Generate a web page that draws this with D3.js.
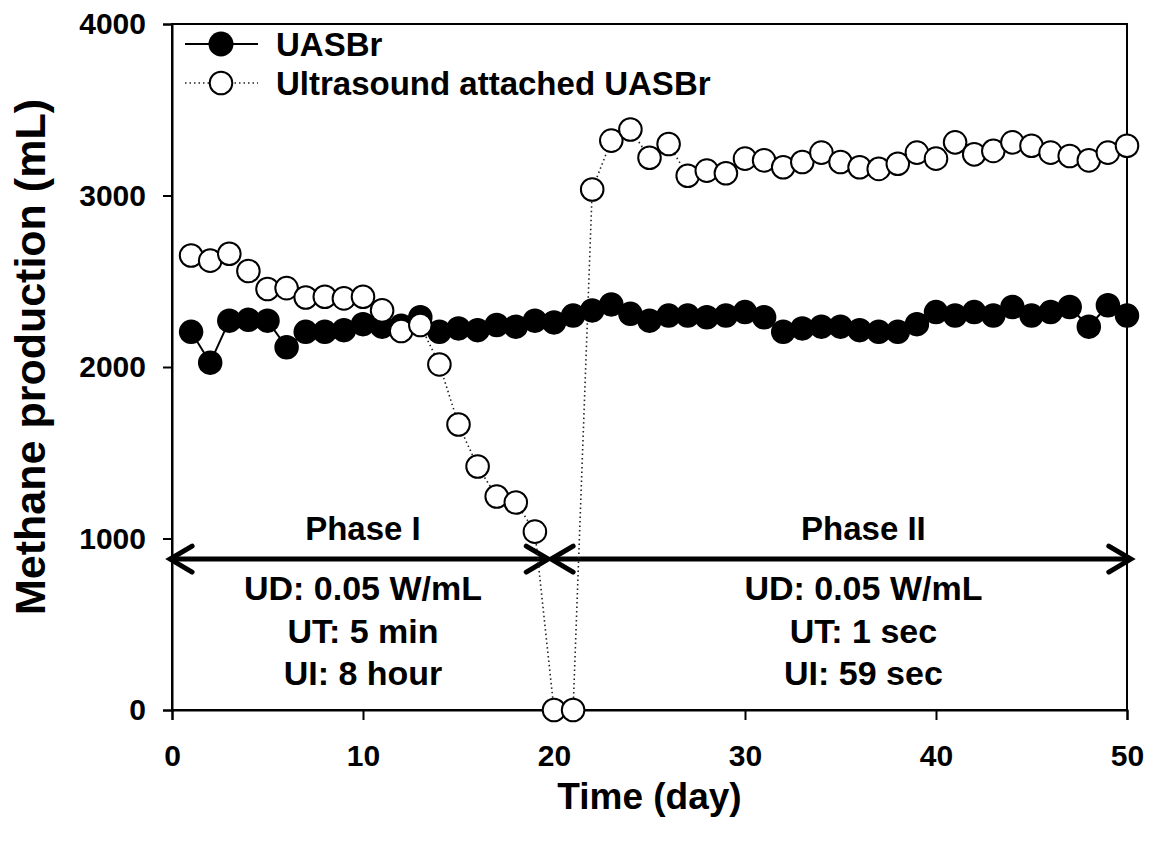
<!DOCTYPE html>
<html>
<head>
<meta charset="utf-8">
<script src="https://cdn.jsdelivr.net/npm/d3@7"></script>
<style>
  body { margin: 0; background: #fff; }
  svg text { font-family: "Liberation Sans", Arial, sans-serif; font-weight: bold; fill: #000; }
</style>
</head>
<body>
<svg width="1150" height="842"></svg>
<script>
// data (mL of methane per day)
var days = d3.range(1, 51);
var uasbr = [2205, 2025, 2270, 2275, 2270, 2115, 2205, 2205, 2215, 2250,
             2235, 2240, 2290, 2205, 2225, 2215, 2245, 2235, 2270, 2260,
             2300, 2330, 2365, 2310, 2270, 2300, 2300, 2290, 2300, 2320,
             2290, 2205, 2225, 2235, 2235, 2215, 2205, 2205, 2250, 2320,
             2300, 2320, 2300, 2350, 2300, 2320, 2350, 2235, 2360, 2300];
var ultrasound = [2650, 2620, 2660, 2560, 2455, 2460, 2405, 2410, 2400, 2410,
                  2330, 2210, 2245, 2015, 1665, 1420, 1245, 1210, 1040, 0,
                  0, 3035, 3320, 3385, 3220, 3300, 3115, 3145, 3130, 3215,
                  3205, 3165, 3195, 3250, 3195, 3165, 3155, 3185, 3250, 3215,
                  3310, 3240, 3260, 3310, 3290, 3250, 3230, 3205, 3250, 3290];
var xTicks = [0, 10, 20, 30, 40, 50];
var yTicks = [0, 1000, 2000, 3000, 4000];
var seriesNames = ["UASBr", "Ultrasound attached UASBr"];
var phases = [
  {name: "Phase I", from: -0.1, to: 19.7, mid: 10, lines: ["UD: 0.05 W/mL", "UT: 5 min", "UI: 8 hour"]},
  {name: "Phase II", from: 19.85, to: 50.2, mid: 36.2, lines: ["UD: 0.05 W/mL", "UT: 1 sec", "UI: 59 sec"]}
];
var phaseLevel = 880;

var svg = d3.select("svg");
var plotL = 172, plotR = 1127, plotT = 24, plotB = 710;

var x = d3.scaleLinear().domain([0, 50]).range([plotL, plotR]);
var y = d3.scaleLinear().domain([0, 4000]).range([plotB, plotT]);

// frame
svg.append("rect")
    .attr("x", plotL).attr("y", plotT)
    .attr("width", plotR - plotL).attr("height", plotB - plotT)
    .attr("fill", "none").attr("stroke", "#000").attr("stroke-width", 2);

var xAxis = svg.append("g")
    .attr("transform", "translate(0," + plotB + ")")
    .call(d3.axisBottom(x).tickValues(xTicks).tickSize(10).tickPadding(25).tickFormat(d3.format("d")));
var yAxis = svg.append("g")
    .attr("transform", "translate(" + plotL + ",0)")
    .call(d3.axisLeft(y).tickValues(yTicks).tickSize(9).tickPadding(17).tickFormat(d3.format("d")));

[xAxis, yAxis].forEach(function (a) {
    a.select(".domain").attr("stroke-width", 2);
    a.selectAll(".tick line").attr("stroke-width", 2);
    a.selectAll("text").attr("font-size", 30)
        .style("font-family", "'Liberation Sans', Arial, sans-serif").style("font-weight", "bold");
});

// axis titles
svg.append("text")
    .attr("x", (plotL + plotR) / 2).attr("y", 809)
    .attr("text-anchor", "middle").attr("font-size", 37)
    .text("Time (day)");
svg.append("text")
    .attr("transform", "translate(45,357) rotate(-90)")
    .attr("text-anchor", "middle").attr("font-size", 43)
    .text("Methane production (mL)");

// phase arrows
function arrowHead(g, tx, ty, dir) {
    g.append("path")
        .attr("d", "M" + (tx - dir * 22) + "," + (ty - 13) + "L" + tx + "," + ty + "L" + (tx - dir * 22) + "," + (ty + 13))
        .attr("fill", "none").attr("stroke", "#000").attr("stroke-width", 5)
        .attr("stroke-linecap", "round").attr("stroke-linejoin", "miter");
}
phases.forEach(function (p) {
    var g = svg.append("g");
    var ay = y(phaseLevel);
    g.append("line")
        .attr("x1", x(p.from)).attr("x2", x(p.to))
        .attr("y1", ay).attr("y2", ay)
        .attr("stroke", "#000").attr("stroke-width", 5);
    arrowHead(g, x(p.from), ay, -1);
    arrowHead(g, x(p.to), ay, 1);
    g.append("text")
        .attr("x", x(p.mid)).attr("y", ay - 19)
        .attr("text-anchor", "middle").attr("font-size", 33)
        .text(p.name);
    p.lines.forEach(function (t, i) {
        g.append("text")
            .attr("x", x(p.mid)).attr("y", ay + 41 + i * 42.5)
            .attr("text-anchor", "middle").attr("font-size", 34)
            .text(t);
    });
});

// series
var line = d3.line()
    .x(function (d, i) { return x(days[i]); })
    .y(function (d) { return y(d); });

svg.append("path").datum(uasbr)
    .attr("d", line).attr("fill", "none")
    .attr("stroke", "#000").attr("stroke-width", 2);
svg.append("path").datum(ultrasound)
    .attr("d", line).attr("fill", "none")
    .attr("stroke", "#222").attr("stroke-width", 1.6).attr("stroke-dasharray", "1.5,3");

svg.append("g").selectAll("circle")
    .data(uasbr).enter().append("circle")
    .attr("cx", function (d, i) { return x(days[i]); })
    .attr("cy", function (d) { return y(d); })
    .attr("r", 11.5)
    .attr("fill", "#000").attr("stroke", "#000").attr("stroke-width", 1.5);

svg.append("g").selectAll("circle")
    .data(ultrasound).enter().append("circle")
    .attr("cx", function (d, i) { return x(days[i]); })
    .attr("cy", function (d) { return y(d); })
    .attr("r", 11.3)
    .attr("fill", "#fff").attr("stroke", "#000").attr("stroke-width", 2);

// legend
var legend = svg.append("g");
var lx = 221, ly = [44, 83];
legend.append("line").attr("x1", lx - 36).attr("x2", lx + 37).attr("y1", ly[0]).attr("y2", ly[0])
    .attr("stroke", "#000").attr("stroke-width", 2);
legend.append("circle").attr("cx", lx).attr("cy", ly[0]).attr("r", 12.5).attr("fill", "#000");
legend.append("line").attr("x1", lx - 36).attr("x2", lx + 37).attr("y1", ly[1]).attr("y2", ly[1])
    .attr("stroke", "#222").attr("stroke-width", 1.6).attr("stroke-dasharray", "1.5,3");
legend.append("circle").attr("cx", lx).attr("cy", ly[1]).attr("r", 11.3)
    .attr("fill", "#fff").attr("stroke", "#000").attr("stroke-width", 2);
seriesNames.forEach(function (n, i) {
    legend.append("text")
        .attr("x", 276).attr("y", ly[i] + 12)
        .attr("font-size", 33)
        .text(n);
});
</script>
</body>
</html>
